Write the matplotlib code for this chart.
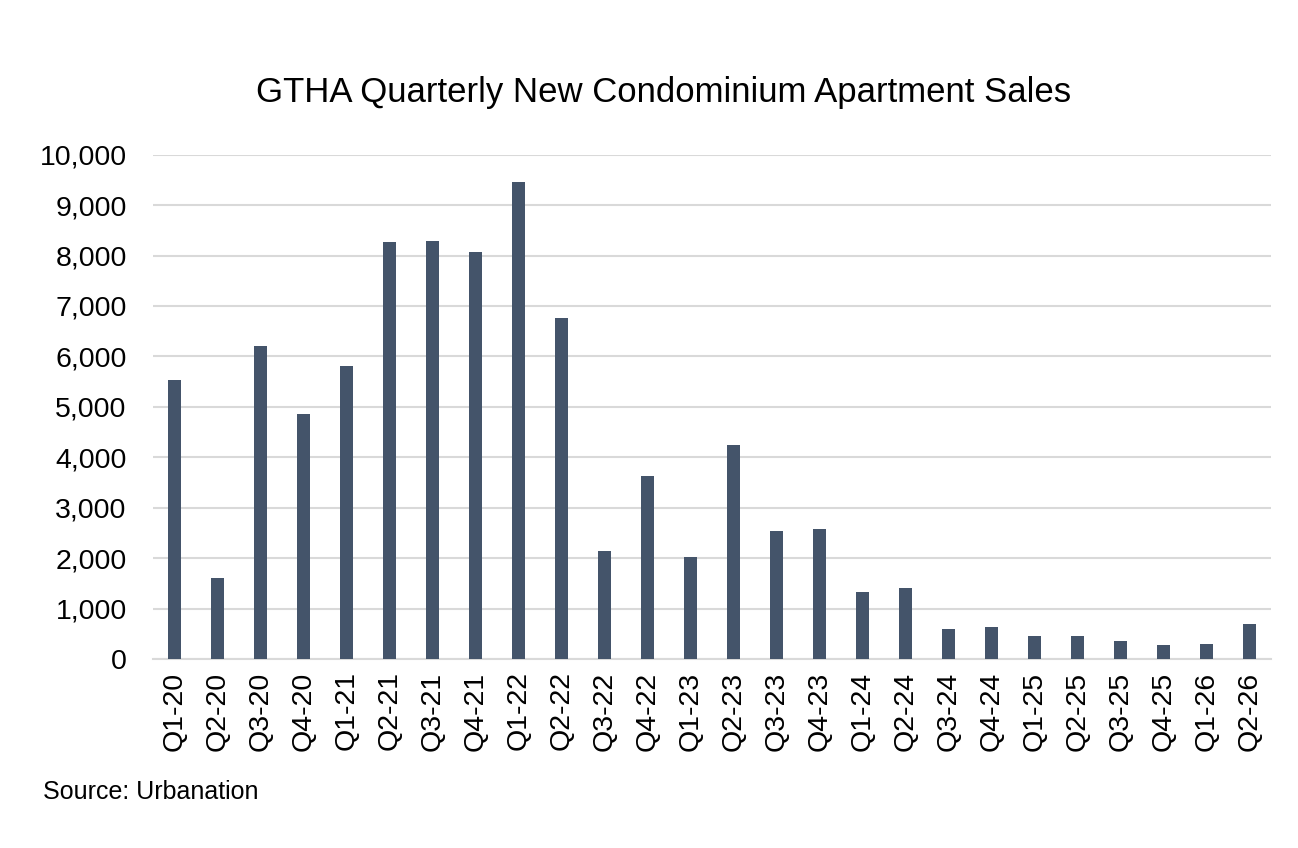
import matplotlib
matplotlib.use('Agg')
import matplotlib.pyplot as plt
from matplotlib.ticker import FuncFormatter

plt.rcParams['font.family'] = ['Liberation Sans', 'DejaVu Sans']

quarters = ['Q1-20', 'Q2-20', 'Q3-20', 'Q4-20', 'Q1-21', 'Q2-21', 'Q3-21', 'Q4-21',
            'Q1-22', 'Q2-22', 'Q3-22', 'Q4-22', 'Q1-23', 'Q2-23', 'Q3-23', 'Q4-23',
            'Q1-24', 'Q2-24', 'Q3-24', 'Q4-24', 'Q1-25', 'Q2-25', 'Q3-25', 'Q4-25',
            'Q1-26', 'Q2-26']
sales = [5540, 1610, 6210, 4860, 5800, 8270, 8285, 8075,
         9460, 6770, 2140, 3630, 2025, 4250, 2540, 2580,
         1320, 1410, 590, 635, 455, 455, 355, 275,
         290, 695]

fig = plt.figure(figsize=(12.98, 8.48), dpi=100)
ax = fig.add_axes([0.1179, 0.2229, 0.8613, 0.5947])

x = range(len(quarters))
ax.bar(x, sales, width=0.3, color='#44546A', zorder=3)

ax.set_xlim(-0.5, len(quarters) - 0.5)
ax.set_ylim(0, 10000)
ax.set_yticks(range(0, 10001, 1000))
ax.yaxis.set_major_formatter(FuncFormatter(lambda v, p: f'{int(v):,}'))
ax.set_xticks(list(x))
ax.set_xticklabels(quarters, rotation=90)

ax.grid(axis='y', color='#D9D9D9', linewidth=1.5, zorder=0)
for s in ['top', 'right', 'left']:
    ax.spines[s].set_visible(False)
ax.spines['bottom'].set_color('#D9D9D9')
ax.spines['bottom'].set_linewidth(1.5)
ax.tick_params(axis='both', length=0, labelsize=20.5, colors='black')
ax.tick_params(axis='y', pad=19)
ax.tick_params(axis='x', pad=9)

fig.text(0.5116, 0.8915, 'GTHA Quarterly New Condominium Apartment Sales',
         ha='center', va='center', fontsize=25)
fig.text(43 / 1298, 1 - 792 / 848, 'Source: Urbanation', ha='left', va='center', fontsize=18)

fig.savefig('out.png', dpi=100)
